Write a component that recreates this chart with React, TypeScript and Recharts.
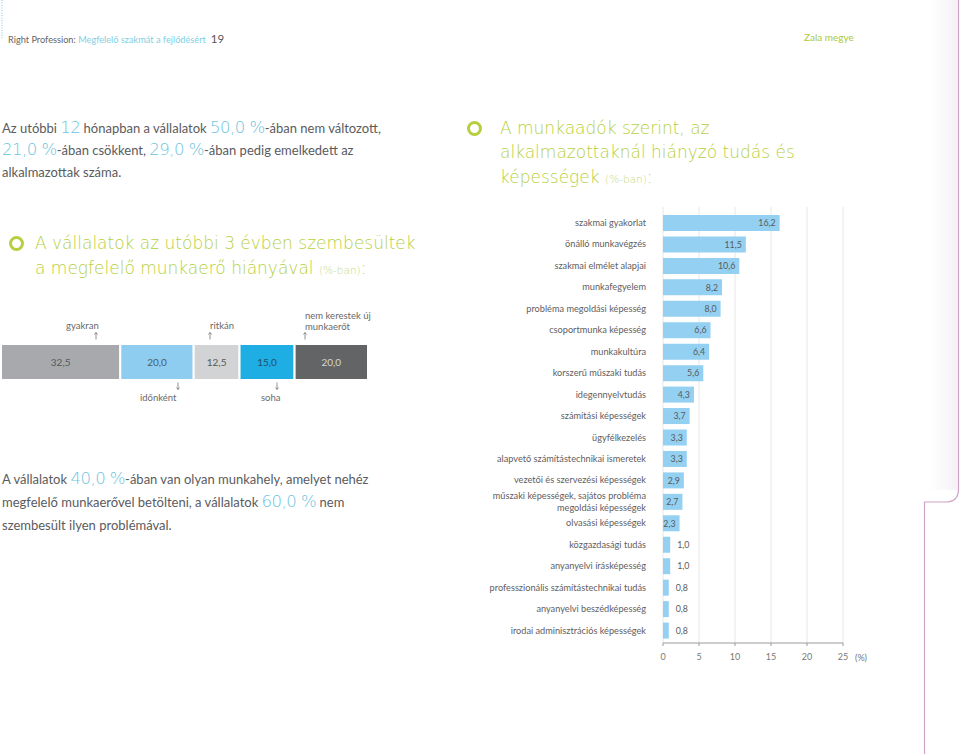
import React from 'react';
import { BarChart, Bar, XAxis, YAxis, CartesianGrid, LabelList } from 'recharts';

// ---- data: shortage of suitable workforce (stacked bar) ----
const shortageKeys = ['gyakran', 'időnként', 'ritkán', 'soha', 'nem kerestek új munkaerőt'];
const shortageValues = [32.5, 20.0, 12.5, 15.0, 20.0];

// ---- data: missing skills (horizontal bar chart) ----
const skillNames = [
  'szakmai gyakorlat',
  'önálló munkavégzés',
  'szakmai elmélet alapjai',
  'munkafegyelem',
  'probléma megoldási képesség',
  'csoportmunka képesség',
  'munkakultúra',
  'korszerű műszaki tudás',
  'idegennyelvtudás',
  'számítási képességek',
  'ügyfélkezelés',
  'alapvető számítástechnikai ismeretek',
  'vezetői és szervezési képességek',
  'műszaki képességek, sajátos probléma megoldási képességek',
  'olvasási képességek',
  'közgazdasági tudás',
  'anyanyelvi írásképesség',
  'professzionális számítástechnikai tudás',
  'anyanyelvi beszédképesség',
  'irodai adminisztrációs képességek',
];
const skillValues = [16.2, 11.5, 10.6, 8.2, 8.0, 6.6, 6.4, 5.6, 4.3, 3.7, 3.3, 3.3, 2.9, 2.7, 2.3, 1.0, 1.0, 0.8, 0.8, 0.8];
const skillTicks = [0, 5, 10, 15, 20, 25];

// ---- styles ----
const shortageColors = ['#a7a9ac', '#8ecdf0', '#d1d3d4', '#1eaee3', '#636466'];
const shortageTextColors = ['#58595b', '#4a5d6b', '#58595b', '#23506b', '#d4d4d4'];
const GREEN = '#b6cf3e';
const BLUE = '#6cc4dc';
const GRAY = '#5a5b5d';
const TITLE_FONT = '"DejaVu Sans", sans-serif';
const BODY_FONT = 'Lato, "Open Sans", sans-serif';

const fmt = (v: number) => v.toFixed(1).replace('.', ',');

const shortageRow: Record<string, any> = { name: 'row' };
shortageKeys.forEach((k, i) => {
  shortageRow['s' + i] = shortageValues[i];
});
const shortageData = [shortageRow];

const skillData = skillNames.map((name, i) => ({ name, value: skillValues[i] }));

const wrapLabel = (s: string, max = 40): string[] => {
  if (s.length <= max) return [s];
  const words = s.split(' ');
  const lines: string[] = [];
  let cur = '';
  words.forEach((w) => {
    const next = cur ? cur + ' ' + w : w;
    if (next.length > max && cur) {
      lines.push(cur);
      cur = w;
    } else {
      cur = next;
    }
  });
  if (cur) lines.push(cur);
  return lines;
};

const SkillTick = (props: any) => {
  const { x, y, payload } = props;
  const lines = wrapLabel(String(payload.value));
  const lh = 12;
  return (
    <text x={x} y={y} textAnchor="end" fontSize={9.2} fill="#5f6062" fontFamily={BODY_FONT}>
      {lines.map((l, i) => (
        <tspan key={i} x={x} dy={i === 0 ? 3.3 - ((lines.length - 1) * lh) / 2 : lh}>
          {l}
        </tspan>
      ))}
    </text>
  );
};

const SkillValueLabel = (props: any) => {
  const { x, y, width, height, value } = props;
  const v = Number(value);
  const inside = v >= 2;
  const tx = inside ? Number(x) + Number(width) - 4 : Number(x) + Number(width) + 7;
  return (
    <text
      x={tx}
      y={Number(y) + Number(height) / 2}
      dy={3.2}
      textAnchor={inside ? 'end' : 'start'}
      fontSize={8.8}
      fill="#5a5a5a"
      fontFamily={BODY_FONT}
    >
      {fmt(v)}
    </text>
  );
};

const Circle = ({ left, top }: { left: number; top: number }) => (
  <div
    style={{
      position: 'absolute',
      left: left - 7.5,
      top: top - 7.5,
      width: 9,
      height: 9,
      border: `3px solid ${GREEN}`,
      borderRadius: '50%',
    }}
  />
);

const Num = ({ children }: { children: React.ReactNode }) => (
  <span
    style={{
      color: BLUE,
      fontSize: 16.5,
      fontFamily: TITLE_FONT,
      fontWeight: 200,
      letterSpacing: -0.5,
      lineHeight: 0,
    }}
  >
    {children}
  </span>
);

const Small = ({ children }: { children: React.ReactNode }) => (
  <span style={{ fontSize: 10.5, fontFamily: TITLE_FONT, fontWeight: 200, color: '#c5d97a' }}>{children}</span>
);

const Annot = ({ left, top, children, align = 'left' }: any) => (
  <div
    style={{
      position: 'absolute',
      left,
      top,
      fontSize: 9.5,
      lineHeight: '11px',
      color: '#6a6a6a',
      fontFamily: BODY_FONT,
      whiteSpace: 'nowrap',
      textAlign: align,
    }}
  >
    {children}
  </div>
);

const Arrow = ({ x, y, up }: { x: number; y: number; up: boolean }) => (
  <svg style={{ position: 'absolute', left: x - 3, top: y - 4 }} width={6} height={8}>
    <line x1={3} y1={0.5} x2={3} y2={7.5} stroke="#777" strokeWidth={0.8} />
    {up ? (
      <path d="M1.5,2.5 L3,0.5 L4.5,2.5" fill="none" stroke="#777" strokeWidth={0.8} />
    ) : (
      <path d="M1.5,5.5 L3,7.5 L4.5,5.5" fill="none" stroke="#777" strokeWidth={0.8} />
    )}
  </svg>
);

export default function App() {
  return (
    <div
      style={{
        position: 'absolute',
        left: 0,
        top: 0,
        width: 960,
        height: 754,
        overflow: 'hidden',
        background: '#fff',
        fontFamily: BODY_FONT,
        color: GRAY,
      }}
    >
      {/* page frame */}
      <div
        style={{
          position: 'absolute',
          left: 930,
          top: 0,
          width: 28,
          height: 490,
          background: 'linear-gradient(to right, rgba(255,255,255,0), rgba(225,215,225,0.35))',
        }}
      />
      <svg style={{ position: 'absolute', left: 0, top: 0 }} width={960} height={754}>
        <path d="M958.5,0 L958.5,489 Q958.5,502 945.5,502 L924.5,502 L924.5,754" fill="none" stroke="#cfa3c8" strokeWidth={1.2} />
        <line x1={2} y1={0} x2={2} y2={40} stroke="#7ccbe2" strokeWidth={1} strokeDasharray="1 1.5" />
      </svg>

      {/* header */}
      <div style={{ position: 'absolute', left: 8, top: 32, fontSize: 9.2, whiteSpace: 'nowrap', color: '#666' }}>
        Right Profession: <span style={{ color: '#7fcfe3' }}>Megfelelő szakmát a fejlődésért</span>
        <span style={{ color: '#555', fontSize: 11.5, marginLeft: 5 }}>19</span>
      </div>
      <div style={{ position: 'absolute', left: 804, top: 31, fontSize: 10, whiteSpace: 'nowrap', color: '#a9c93c' }}>
        Zala megye
      </div>

      {/* top-left paragraph */}
      <div
        style={{
          position: 'absolute',
          left: 2,
          top: 117,
          fontSize: 13,
          lineHeight: '22px',
          whiteSpace: 'nowrap',
          color: GRAY,
        }}
      >
        Az utóbbi <Num>12</Num> hónapban a vállalatok <Num>50,0 %</Num>-ában nem változott,
        <br />
        <Num>21,0 %</Num>-ában csökkent, <Num>29,0 %</Num>-ában pedig emelkedett az
        <br />
        alkalmazottak száma.
      </div>

      {/* right title */}
      <Circle left={474} top={128} />
      <div
        style={{
          position: 'absolute',
          left: 500,
          top: 115.5,
          fontSize: 17,
          lineHeight: '24.5px',
          fontFamily: TITLE_FONT,
          fontWeight: 200,
          color: GREEN,
          whiteSpace: 'nowrap',
        }}
      >
        A munkaadók szerint, az
        <br />
        alkalmazottaknál hiányzó tudás és
        <br />
        képességek <Small>(%-ban)</Small>:
      </div>

      {/* left title */}
      <Circle left={16.5} top={243} />
      <div
        style={{
          position: 'absolute',
          left: 35,
          top: 230.5,
          fontSize: 17,
          lineHeight: '25px',
          fontFamily: TITLE_FONT,
          fontWeight: 200,
          color: GREEN,
          whiteSpace: 'nowrap',
        }}
      >
        A vállalatok az utóbbi 3 évben szembesültek
        <br />
        a megfelelő munkaerő hiányával <Small>(%-ban)</Small>:
      </div>

      {/* stacked bar annotations */}
      <Annot left={66} top={320}>gyakran</Annot>
      <Arrow x={96} y={336} up />
      <Annot left={210} top={320}>ritkán</Annot>
      <Arrow x={210} y={336} up />
      <Annot left={305} top={310}>
        nem kerestek új
        <br />
        munkaerőt
      </Annot>
      <Arrow x={305} y={336} up />
      <Arrow x={178} y={386} up={false} />
      <Annot left={140} top={392}>időnként</Annot>
      <Arrow x={277} y={386} up={false} />
      <Annot left={261} top={392}>soha</Annot>

      {/* stacked bar chart */}
      <div style={{ position: 'absolute', left: 0, top: 342 }}>
        <BarChart
          width={372}
          height={40}
          data={shortageData}
          layout="vertical"
          margin={{ top: 2, right: 4, bottom: 2, left: 1 }}
          barCategoryGap={0}
        >
          <XAxis type="number" domain={[0, 100]} hide />
          <YAxis type="category" dataKey="name" hide />
          {shortageKeys.map((k, i) => (
            <Bar
              key={k}
              dataKey={'s' + i}
              name={k}
              stackId="a"
              fill={shortageColors[i]}
              stroke="#fff"
              strokeWidth={2}
              isAnimationActive={false}
            >
              <LabelList
                dataKey={'s' + i}
                position="center"
                formatter={(v: any) => fmt(Number(v))}
                fill={shortageTextColors[i]}
                fontSize={10}
                fontFamily={BODY_FONT}
              />
            </Bar>
          ))}
        </BarChart>
      </div>

      {/* bottom-left paragraph */}
      <div
        style={{
          position: 'absolute',
          left: 2,
          top: 467.5,
          fontSize: 13,
          lineHeight: '23px',
          whiteSpace: 'nowrap',
          color: GRAY,
        }}
      >
        A vállalatok <Num>40,0 %</Num>-ában van olyan munkahely, amelyet nehéz
        <br />
        megfelelő munkaerővel betölteni, a vállalatok <Num>60,0 %</Num> nem
        <br />
        szembesült ilyen problémával.
      </div>

      {/* skills bar chart */}
      <div style={{ position: 'absolute', left: 480, top: 200 }}>
        <BarChart
          width={420}
          height={475}
          data={skillData}
          layout="vertical"
          margin={{ top: 7, right: 57, bottom: 12, left: 0 }}
          barSize={16}
        >
          <CartesianGrid horizontal={false} stroke="#e6e6e6" />
          <XAxis
            type="number"
            domain={[0, 25]}
            ticks={skillTicks}
            interval={0}
            height={20}
            tickSize={3}
            tickMargin={8}
            axisLine={{ stroke: '#9a9a9a' }}
            tickLine={{ stroke: '#9a9a9a' }}
            tick={{ fontSize: 9, fill: '#777', fontFamily: BODY_FONT }}
          />
          <YAxis
            type="category"
            dataKey="name"
            width={183}
            interval={0}
            tickLine={false}
            axisLine={false}
            tickSize={0}
            tickMargin={17}
            padding={{ top: 5, bottom: 2 }}
            tick={<SkillTick />}
          />
          <Bar dataKey="value" fill="#93d0f2" isAnimationActive={false}>
            <LabelList dataKey="value" content={<SkillValueLabel />} />
          </Bar>
        </BarChart>
      </div>
      <div style={{ position: 'absolute', left: 855, top: 652, fontSize: 9, color: '#777' }}>(%)</div>
    </div>
  );
}
